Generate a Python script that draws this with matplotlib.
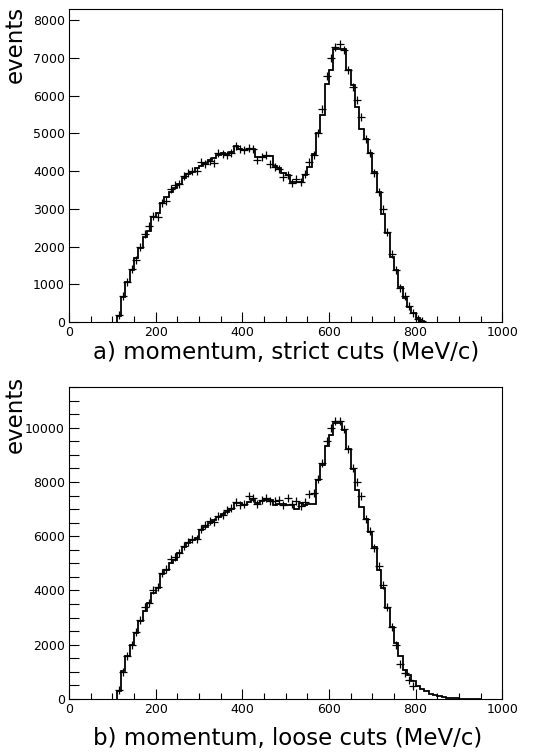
import numpy as np
import matplotlib
matplotlib.use("Agg")
import matplotlib.pyplot as plt
from matplotlib.ticker import MultipleLocator

# 10 MeV/c bins starting at 110 MeV/c
bin_start = 110
bin_width = 10

# a) strict cuts: simulated histogram (bins 110..820)
strict_hist = [
    150, 670, 1070, 1380, 1690, 1970, 2250, 2420, 2790, 2900,
    3150, 3320, 3450, 3560, 3650, 3820, 3920, 3980, 4080, 4150,
    4220, 4300, 4350, 4420, 4480, 4450, 4500, 4680, 4600, 4560,
    4600, 4580, 4380, 4380, 4400, 4400, 4150, 4080, 3950, 3900,
    3720, 3720, 3720, 3900, 4100, 4450, 5000, 5500, 6320, 6680,
    7250, 7250, 7250, 6675, 6280, 5690, 5130, 4840, 4490, 3965,
    3450, 2860, 2350, 1730, 1380, 940, 630, 400, 230, 100,
    35,
]
# a) strict cuts: data points (bin centres 115..815)
strict_data = [
    180, 700, 1050, 1400, 1650, 1980, 2330, 2550, 2800, 2780,
    3150, 3200, 3520, 3620, 3650, 3870, 3950, 4000, 4000, 4250,
    4180, 4280, 4220, 4480, 4450, 4430, 4480, 4680, 4580, 4550,
    4620, 4580, 4300, 4380, 4420, 4180, 4100, 4050, 3850, 3900,
    3680, 3780, 3700, 3920, 4250, 4420, 5000, 5650, 6520, 7000,
    7300, 7380, 7220, 6680, 6230, 5880, 5440, 4840, 4470, 3960,
    3450, 3000, 2380, 1800, 1380, 900, 680, 420, 250, 90,
    30,
]

# b) loose cuts: simulated histogram (bins 110..950)
loose_hist = [
    300, 1020, 1570, 2000, 2450, 2890, 3260, 3530, 3900, 4080,
    4610, 4750, 5000, 5120, 5370, 5610, 5760, 5860, 5920, 6230,
    6350, 6470, 6590, 6720, 6810, 6900, 7020, 7210, 7230, 7150,
    7270, 7330, 7230, 7300, 7390, 7330, 7150, 7200, 7180, 7150,
    7150, 7020, 7210, 7150, 7200, 7200, 8060, 8620, 9310, 9720,
    10170, 10170, 9900, 9230, 8490, 7700, 7080, 6650, 6160, 5610,
    4750, 4080, 3350, 2670, 2060, 1570, 1080, 890, 650, 470,
    370, 280, 200, 135, 100, 70, 50, 35, 25, 15,
    10, 8, 5, 3,
]
# b) loose cuts: data points (bin centres 115..795)
loose_data = [
    350, 1000, 1600, 2000, 2480, 2900, 3400, 3550, 4000, 4120,
    4650, 4800, 5150, 5250, 5400, 5650, 5800, 5900, 5900, 6250,
    6400, 6550, 6520, 6750, 6800, 6950, 7050, 7250, 7150, 7200,
    7500, 7400, 7200, 7350, 7400, 7300, 7300, 7350, 7150, 7400,
    7200, 7300, 7100, 7250, 7550, 7600, 8100, 8700, 9500, 10000,
    10250, 10250, 9950, 9200, 8500, 8000, 7500, 6650, 6200, 5550,
    4900, 4200, 3400, 2650, 2000, 1300, 950, 700, 480,
]

labels = ["a) momentum, strict cuts (MeV/c)", "b) momentum, loose cuts (MeV/c)"]

fig = plt.figure(figsize=(5.54, 7.53), dpi=100)
ax_top = fig.add_axes([0.1245, 0.5724, 0.782, 0.4156])
ax_bot = fig.add_axes([0.1245, 0.0717, 0.782, 0.4143])


def draw_panel(ax, hist, data, ymax, ymajor, yminor):
    edges = bin_start + bin_width * np.arange(len(hist) + 1)
    ax.stairs(hist, edges, color="black", lw=1.3)
    centers = bin_start + bin_width * (np.arange(len(data)) + 0.5)
    ax.plot(centers, data, "+", color="black", ms=6, mew=0.9)

    ax.set_xlim(0, 1000)
    ax.set_ylim(0, ymax)
    ax.xaxis.set_major_locator(MultipleLocator(200))
    ax.xaxis.set_minor_locator(MultipleLocator(50))
    ax.yaxis.set_major_locator(MultipleLocator(ymajor))
    if yminor:
        ax.yaxis.set_minor_locator(MultipleLocator(yminor))
    ax.tick_params(which="both", direction="in", top=False, right=False,
                   labelsize=9, width=0.8, pad=3)
    ax.tick_params(which="major", length=7)
    ax.tick_params(which="minor", length=4)
    ax.tick_params(axis="y", which="minor", length=7)
    for sp in ax.spines.values():
        sp.set_linewidth(0.8)


draw_panel(ax_top, strict_hist, strict_data, 8300, 1000, None)
draw_panel(ax_bot, loose_hist, loose_data, 11500, 2000, 500)

fig.text(15 / 554, 1 - 6 / 753, "events", rotation=90, ha="center", va="top", fontsize=16.5)
fig.text(15 / 554, 1 - 376 / 753, "events", rotation=90, ha="center", va="top", fontsize=16.5)
fig.text(286 / 554, 1 - 353 / 753, labels[0], ha="center", va="center", fontsize=16.5)
fig.text(288 / 554, 1 - 738 / 753, labels[1], ha="center", va="center", fontsize=16.5)

fig.savefig("out.png", dpi=100)
